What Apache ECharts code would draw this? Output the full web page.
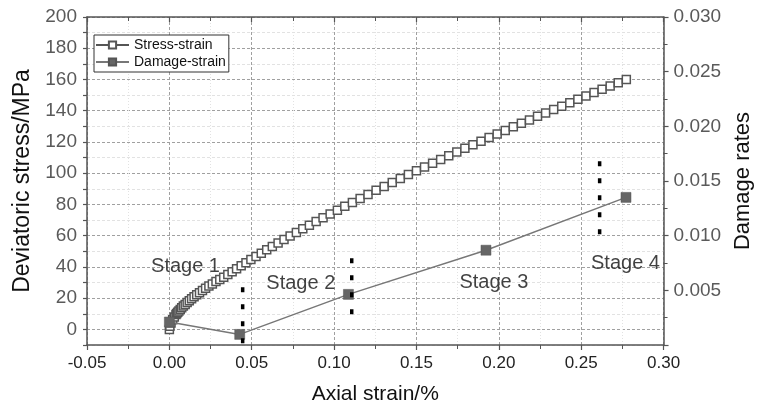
<!DOCTYPE html>
<html>
<head>
<meta charset="utf-8">
<script src="https://cdn.jsdelivr.net/npm/echarts@6/dist/echarts.min.js"></script>
<style>html,body{margin:0;padding:0;background:#fff}#c{width:762px;height:415px}</style>
</head>
<body>
<div id="c"></div>
<script>
// ---- data ----
const stressStrain = [0, 0.0003, 0.001, 0.002, 0.003, 0.004, 0.0045, 0.0051, 0.0058, 0.0066, 0.0075, 0.0085, 0.0096, 0.0108, 0.0121, 0.0135, 0.015, 0.0166, 0.0183, 0.0201, 0.022, 0.024, 0.0261, 0.0283, 0.0306,
  0.033, 0.0355, 0.0381, 0.0408, 0.0436, 0.0465, 0.0495, 0.0526, 0.0558, 0.0591, 0.0625, 0.066, 0.0696, 0.0733, 0.0771, 0.081, 0.085, 0.0891, 0.0933, 0.0976, 0.102, 0.1065, 0.1111, 0.1158, 0.1206,
  0.1255, 0.1304, 0.1353, 0.1402, 0.1451, 0.15, 0.1549, 0.1598, 0.1647, 0.1696, 0.1745, 0.1794, 0.1843, 0.1892, 0.1941, 0.199, 0.2039, 0.2088, 0.2137, 0.2186, 0.2235, 0.2284, 0.2333, 0.2382, 0.2431, 0.248, 0.2529, 0.2578, 0.2627, 0.2676, 0.2725, 0.2774];
const stressValues = [0, 2.0, 4.1, 6.2, 8.0, 9.5, 10.2, 10.9, 11.8, 12.8, 13.8, 14.9, 16.0, 17.2, 18.4, 19.6, 20.9, 22.2, 23.5, 24.9, 26.3, 27.7, 29.1, 30.6, 31.9,
  33.4, 35.1, 36.9, 38.8, 40.7, 42.7, 44.7, 46.7, 48.8, 51.0, 53.1, 55.3, 57.5, 59.8, 62.0, 64.4, 66.7, 69.0, 71.4, 73.9, 76.3, 78.8, 81.3, 83.8, 86.4,
  89.0, 91.5, 94.1, 96.6, 99.1, 101.5, 104.0, 106.4, 108.8, 111.2, 113.5, 115.9, 118.2, 120.5, 122.8, 125.1, 127.4, 129.7, 131.9, 134.1, 136.4, 138.6, 140.8, 142.9, 145.1, 147.3, 149.4, 151.6, 153.7, 155.8, 157.9, 160.0];
const damageStrain = [0, 0.0427, 0.1087, 0.1922, 0.2772];
const damageValues = [0.0021, 0.00097, 0.00463, 0.00867, 0.01350];

const stageNames = ['Stage 1', 'Stage 2', 'Stage 3', 'Stage 4'];
const stageLabelX = [0.0098, 0.0798, 0.197, 0.2769];
const stageLabelY = [40.4, 29.5, 30.1, 42.3];
const dividerX = [0.0445, 0.1107, 0.2612];
const dividerTop = [27, 45.5, 107.7];
const dividerBottom = [-9, 9.6, 58.3];

const xTicks = [-0.05, 0, 0.05, 0.10, 0.15, 0.20, 0.25, 0.30];
const xTickLabels = ['-0.05', '0.00', '0.05', '0.10', '0.15', '0.20', '0.25', '0.30'];
const yLeftTickLabels = ['0', '20', '40', '60', '80', '100', '120', '140', '160', '180', '200'];
const yRightTickLabels = ['0.005', '0.010', '0.015', '0.020', '0.025', '0.030'];

// ---- chart ----
const FONT = '"Liberation Sans", Arial, sans-serif';
const AX = '#555';
const chart = echarts.init(document.getElementById('c'), null, {renderer: 'canvas'});

function lookup(v, labels) {
  for (let i = 0; i < labels.length; i++) {
    if (Math.abs(Number(labels[i]) - v) < 1e-9) return labels[i];
  }
  return '';
}

const series = [
  {
    name: 'Stress-strain', type: 'line', xAxisIndex: 0, yAxisIndex: 0,
    data: stressStrain.map((x, i) => [x, stressValues[i]]),
    symbol: 'rect', symbolSize: 8, showAllSymbol: true,
    itemStyle: {color: '#fff', borderColor: '#555', borderWidth: 1.5},
    lineStyle: {color: '#555', width: 1}, z: 3
  },
  {
    name: 'Damage-strain', type: 'line', xAxisIndex: 0, yAxisIndex: 1,
    data: damageStrain.map((x, i) => [x, damageValues[i]]),
    symbol: 'rect', symbolSize: 10,
    itemStyle: {color: '#666', borderColor: '#555', borderWidth: 0.5},
    lineStyle: {color: '#777', width: 1.5}, z: 4
  }
];
dividerX.forEach((x, i) => {
  series.push({
    type: 'line', xAxisIndex: 0, yAxisIndex: 0, silent: true, symbol: 'none',
    data: [[x, dividerTop[i]], [x, dividerBottom[i]]],
    lineStyle: {color: '#000', width: 3.5, type: [5, 12], cap: 'butt'}, z: 5
  });
});
series.push({
  type: 'scatter', xAxisIndex: 0, yAxisIndex: 0, silent: true,
  symbolSize: 0,
  data: stageNames.map((n, i) => ({name: n, value: [stageLabelX[i], stageLabelY[i]]})),
  label: {show: true, position: 'inside', formatter: p => p.name, color: '#111', fontSize: 20, fontFamily: FONT},
  z: 6
});

chart.setOption({
  animation: false,
  backgroundColor: '#fff',
  textStyle: {fontFamily: FONT},
  grid: {left: 87, right: 90, top: 17, bottom: 70, containLabel: false},
  legend: {
    data: ['Stress-strain', 'Damage-strain'],
    orient: 'vertical', left: 94, top: 35,
    padding: [3, 3, 3, 1], itemGap: 3, itemWidth: 33, itemHeight: 9,
    backgroundColor: '#fff', borderColor: '#333', borderWidth: 1, borderRadius: 0,
    textStyle: {fontSize: 14, color: '#111', fontFamily: FONT}
  },
  xAxis: [
    {
      type: 'value', position: 'bottom', min: -0.05, max: 0.30, interval: 0.05,
      name: 'Axial strain/%', nameLocation: 'middle', nameGap: 39,
      nameTextStyle: {fontSize: 21, color: '#111', fontFamily: FONT},
      axisLine: {onZero: false, lineStyle: {color: AX, width: 1.5}},
      axisTick: {length: 5, lineStyle: {color: AX, width: 1.2}},
      minorTick: {show: true, splitNumber: 2, length: 4, lineStyle: {color: AX, width: 1}},
      axisLabel: {fontSize: 17, color: '#222', margin: 10, fontFamily: FONT,
        formatter: v => lookup(v, xTickLabels)},
      splitLine: {show: true, lineStyle: {color: '#a0a0a0', width: 1, type: [3, 2]}},
      minorSplitLine: {show: true, lineStyle: {color: '#e2e2e2', width: 1, type: [1, 2]}}
    },
    {
      type: 'value', position: 'top', min: -0.05, max: 0.30, interval: 0.05,
      axisLine: {onZero: false, lineStyle: {color: AX, width: 1.5}},
      axisTick: {inside: true, length: 5, lineStyle: {color: AX, width: 1.2}},
      minorTick: {show: true, splitNumber: 2, length: 4, lineStyle: {color: AX, width: 1}},
      axisLabel: {show: false}, splitLine: {show: false}
    }
  ],
  yAxis: [
    {
      type: 'value', position: 'left', min: -10, max: 200, interval: 10,
      name: 'Deviatoric stress/MPa', nameLocation: 'middle', nameGap: 53, nameRotate: 90,
      nameTextStyle: {fontSize: 23, color: '#111', fontFamily: FONT},
      axisLine: {show: true, onZero: false, lineStyle: {color: AX, width: 1.5}},
      axisTick: {length: 4, lineStyle: {color: AX, width: 1.2}},
      axisLabel: {fontSize: 19, color: '#5a5a5a', margin: 10, fontFamily: FONT,
        formatter: v => lookup(v, yLeftTickLabels)},
      splitLine: {show: true, lineStyle: {color: ['#e2e2e2', '#a0a0a0'], width: 1, type: [3, 2]}}
    },
    {
      type: 'value', position: 'right', min: 0, max: 0.030, interval: 0.005,
      name: 'Damage rates', nameLocation: 'middle', nameGap: 64, nameRotate: 90,
      nameTextStyle: {fontSize: 22, color: '#111', fontFamily: FONT},
      axisLine: {show: true, onZero: false, lineStyle: {color: AX, width: 1.5}},
      axisTick: {length: 5, lineStyle: {color: AX, width: 1.2}},
      minorTick: {show: true, splitNumber: 2, length: 4, lineStyle: {color: AX, width: 1}},
      axisLabel: {fontSize: 19, color: '#5a5a5a', margin: 10, fontFamily: FONT,
        formatter: v => lookup(v, yRightTickLabels)},
      splitLine: {show: false}
    }
  ],
  series: series
});
</script>
</body>
</html>
